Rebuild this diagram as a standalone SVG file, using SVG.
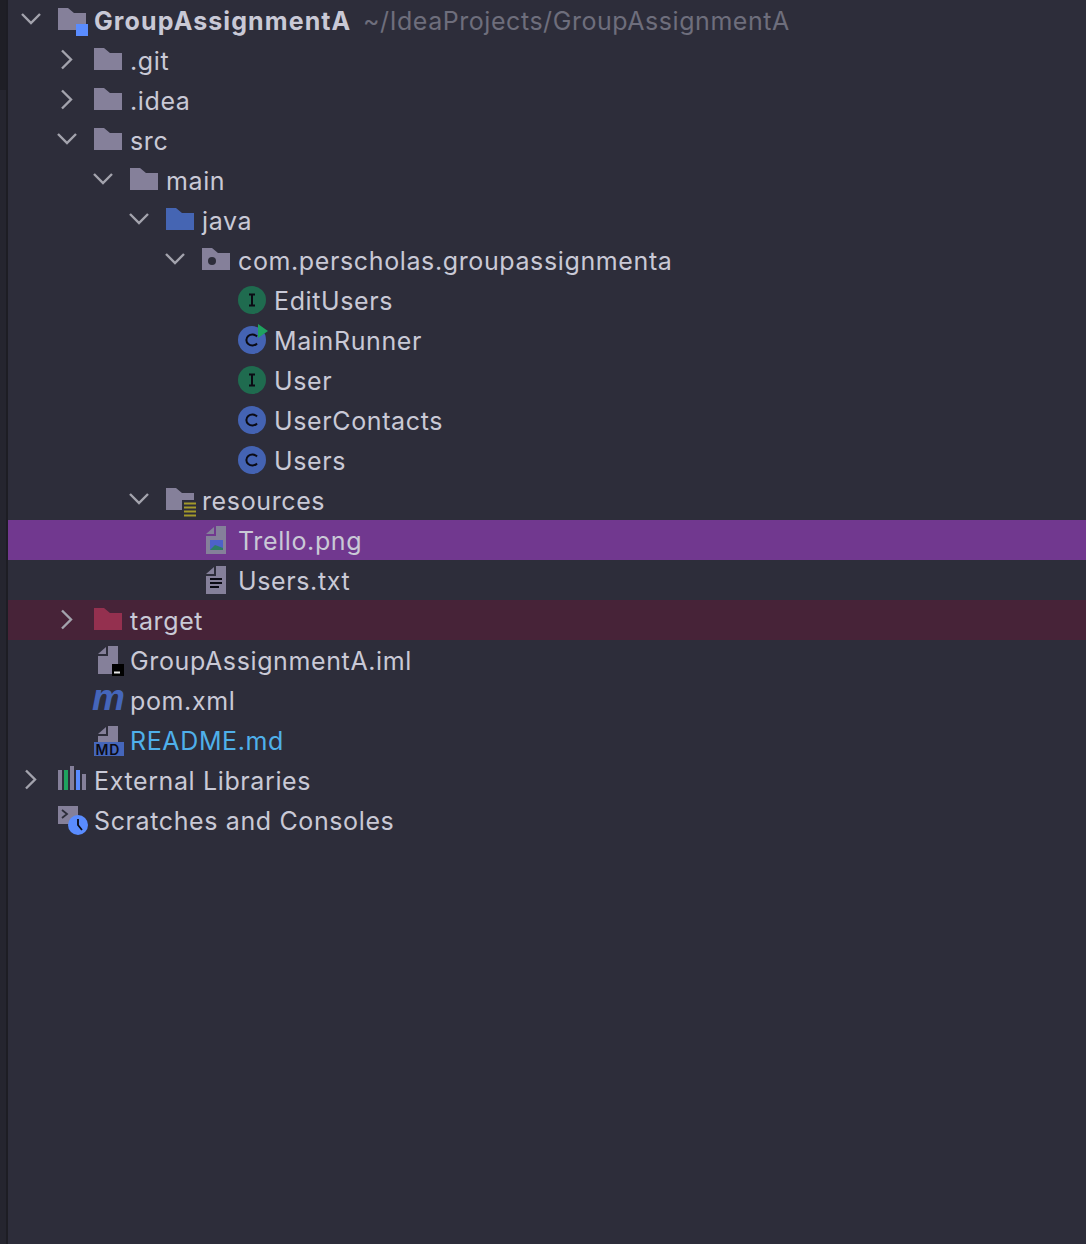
<svg xmlns="http://www.w3.org/2000/svg" width="1086" height="1244" viewBox="0 0 1086 1244">
<style>
text{font-family:Inter,"Noto Sans","Liberation Sans",sans-serif;font-size:25px;letter-spacing:.62px;fill:#c9c9d6}
.chev{fill:none;stroke:#a3a3ad;stroke-width:2.4}
</style>
<defs>
<path id="folder" d="M0 0H10L16 5H28V22H0Z"/>
<path id="down" class="chev" d="M0 0L9 9L18 0"/>
<path id="right" class="chev" d="M0 0L9 9L0 18"/>
<g id="cls"><circle cx="14" cy="14" r="14" fill="#4463b3"/><path d="M19 10.500A6 5.500 0 1 0 19 17.500" fill="none" stroke="#0b0b14" stroke-width="2"/></g>
<g id="ifc"><circle cx="14" cy="14" r="14" fill="#1f6b4f"/><path d="M11 8.500H17M14 8.500V19.500M11 19.500H17" fill="none" stroke="#0b0b14" stroke-width="2"/></g>
</defs>
<rect width="1086" height="1244" fill="#2d2d3a"/>
<rect width="7" height="1244" fill="#25252f"/>
<rect width="7" height="90" fill="#1f1f26"/>
<rect x="6" width="2" height="1244" fill="#1d1d24"/>
<rect x="8" y="520" width="1078" height="40" fill="#71388f"/>
<rect x="8" y="600" width="1078" height="40" fill="#472338"/>

<g id="connectors" class="chev">
<use href="#down" x="22" y="14"/><use href="#right" x="62" y="50.500"/><use href="#right" x="62" y="90.500"/><use href="#down" x="58" y="134"/><use href="#down" x="94" y="174"/><use href="#down" x="130" y="214"/><use href="#down" x="166" y="254"/><use href="#down" x="130" y="494"/><use href="#right" x="62" y="610.500"/><use href="#right" x="26" y="770.500"/>
</g>

<g id="root"><path d="M58 8H68L74 13H86V30H58Z" fill="#85809a"/><rect x="76" y="24" width="12" height="12" fill="#5a8cff"/><text x="94" y="30" font-weight="700" style="letter-spacing:1.1px">GroupAssignmentA</text><text x="363" y="30" style="fill:#6e6e7c;letter-spacing:.55px">~/IdeaProjects/GroupAssignmentA</text></g>
<g id="git"><use href="#folder" x="94" y="48" fill="#85809a"/><text x="130" y="70">.git</text></g>
<g id="idea"><use href="#folder" x="94" y="88" fill="#85809a"/><text x="130" y="110">.idea</text></g>
<g id="src"><use href="#folder" x="94" y="128" fill="#85809a"/><text x="130" y="150">src</text></g>
<g id="main"><use href="#folder" x="130" y="168" fill="#85809a"/><text x="166" y="190">main</text></g>
<g id="java"><use href="#folder" x="166" y="208" fill="#4565b3"/><text x="202" y="230">java</text></g>
<g id="pkg"><use href="#folder" x="202" y="248" fill="#85809a"/><circle cx="212" cy="261" r="4" fill="#2d2d3a"/><text x="238" y="270">com.perscholas.groupassignmenta</text></g>
<g id="editusers"><use href="#ifc" x="238" y="286"/><text x="274" y="310">EditUsers</text></g>
<g id="mainrunner"><use href="#cls" x="238" y="326"/><path d="M258 324L268 331L258 338Z" fill="#1fa25f"/><text x="274" y="350">MainRunner</text></g>
<g id="user"><use href="#ifc" x="238" y="366"/><text x="274" y="390">User</text></g>
<g id="usercontacts"><use href="#cls" x="238" y="406"/><text x="274" y="430">UserContacts</text></g>
<g id="users"><use href="#cls" x="238" y="446"/><text x="274" y="470">Users</text></g>
<g id="resources"><path d="M166 488H176L182 493H194V510H166Z" fill="#85809a"/><rect x="182" y="500" width="14" height="17" fill="#2d2d3a"/><path d="M184 503.500H196M184 507.500H196M184 511.500H196M184 515.500H196" stroke="#a39a2a" stroke-width="2"/><text x="202" y="510">resources</text></g>
<g id="trello"><path d="M206 534L214 527V534Z" fill="#85809a"/><path d="M206 536H216V526H226V554H206Z" fill="#85809a"/><rect x="210" y="540" width="13" height="10" fill="#4d62c8"/><path d="M210 550L215 545L223 548V550Z" fill="#2f7d63"/><text x="238" y="550">Trello.png</text></g>
<g id="userstxt"><path d="M206 574L214 567V574Z" fill="#85809a"/><path d="M206 576H216V566H226V594H206Z" fill="#85809a"/><path d="M210 579H222M210 583H222M210 587H219" stroke="#0b0b14" stroke-width="1.800"/><text x="238" y="590">Users.txt</text></g>
<g id="target"><use href="#folder" x="94" y="608" fill="#94304f"/><text x="130" y="630">target</text></g>
<g id="iml"><path d="M98 654L106 647V654Z" fill="#85809a"/><path d="M98 656H108V646H118V674H98Z" fill="#85809a"/><rect x="112" y="664" width="12" height="12" fill="#000"/><rect x="114" y="671.500" width="6" height="2" fill="#e8e8e8"/><text x="130" y="670">GroupAssignmentA.iml</text></g>
<g id="pom"><text x="92" y="710" style="font-family:'Liberation Sans',sans-serif;font-weight:700;font-style:italic;font-size:37px;letter-spacing:0;fill:#4566bb">m</text><text x="130" y="710">pom.xml</text></g>
<g id="readme"><path d="M98 734L106 727V734Z" fill="#85809a"/><path d="M98 736H108V726H118V742H98Z" fill="#85809a"/><rect x="94" y="742" width="30" height="14" fill="#4566bb"/><text x="95.500" y="754.500" style="font-size:14px;font-weight:600;fill:#0b0b14;letter-spacing:.8px">MD</text><text x="130" y="750" style="fill:#4fb0ea">README.md</text></g>
<g id="extlibs"><rect x="58" y="770" width="4" height="20" fill="#85809a"/><rect x="64" y="770" width="4" height="20" fill="#1fa25f"/><rect x="70" y="766" width="4" height="24" fill="#85809a"/><rect x="76" y="770" width="4" height="20" fill="#5a8cff"/><rect x="82" y="774" width="4" height="16" fill="#85809a"/><text x="94" y="790">External Libraries</text></g>
<g id="scratches"><rect x="58" y="806" width="20" height="18" fill="#85809a"/><path d="M62 810L67 814L62 818" fill="none" stroke="#2d2d3a" stroke-width="1.800"/><circle cx="78" cy="825" r="10" fill="#5a8cff"/><path d="M78 819V825L82 830" fill="none" stroke="#0b0b14" stroke-width="1.800"/><text x="94" y="830">Scratches and Consoles</text></g>
</svg>
